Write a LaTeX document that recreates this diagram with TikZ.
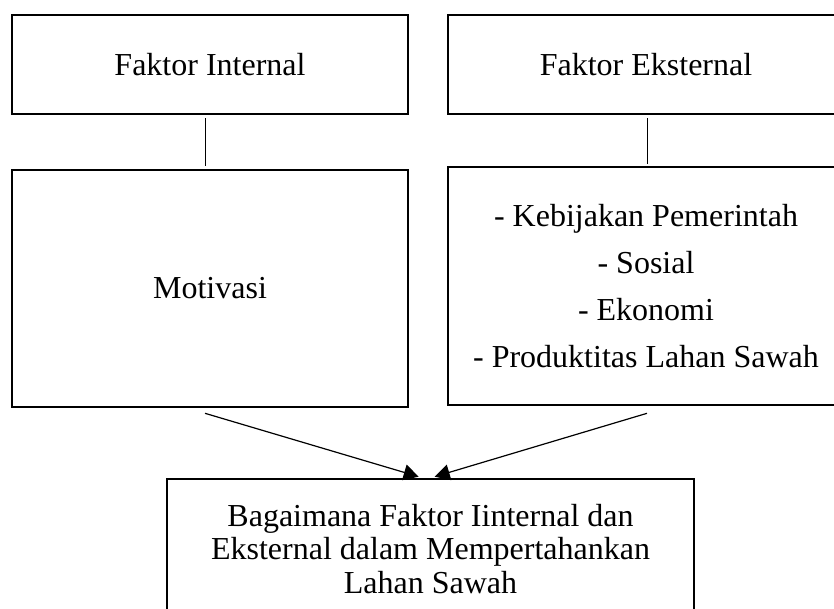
\documentclass[tikz,border=0pt]{standalone}
\usepackage{fontspec}
\setmainfont{Liberation Serif}
\usetikzlibrary{arrows.meta,calc}
\begin{document}
\begin{tikzpicture}[x=1pt,y=-1pt,
  box/.style={draw,line width=2.6pt,rectangle,inner sep=0pt,align=center,font=\fontsize{32}{47}\selectfont},
  link/.style={line width=1pt},
  arr/.style={line width=1.2pt,-{Triangle[length=15pt,width=16pt]}}]
\useasboundingbox (0,0) rectangle (834,608);
\clip (0,0) rectangle (834,608);
\node[box,minimum width=396pt,minimum height=99pt] (fi) at (210,64.5) {Faktor Internal};
\node[box,minimum width=396pt,minimum height=99pt] (fe) at (646,64.5) {Faktor Eksternal};
\node[box,minimum width=396pt,minimum height=237pt] (mo) at (210,288.5) {Motivasi};
\node[box,minimum width=396pt,minimum height=238pt] (ek) at (646,286) {- Kebijakan Pemerintah\\- Sosial\\- Ekonomi\\- Produktitas Lahan Sawah};
\node[box,minimum width=527pt,minimum height=140pt,font=\fontsize{32}{33.3}\selectfont] (bo) at (430.5,549) {Bagaimana Faktor Iinternal dan\\Eksternal dalam Mempertahankan\\Lahan Sawah};
\draw[link] ($(fi.south)+(-5,3)$) -- ($(mo.north)+(-5,-3)$);
\draw[link] ($(fe.south)+(1,3)$) -- ($(ek.north)+(1,-2)$);
\coordinate (s1) at ($(mo.south)+(-5,5)$);
\coordinate (s2) at ($(ek.south)+(1,7)$);
\draw[arr] (s1) -- ($(bo.north west)+(253,-1)$);
\draw[arr] (s2) -- ($(bo.north west)+(269,-1)$);
\end{tikzpicture}
\end{document}
